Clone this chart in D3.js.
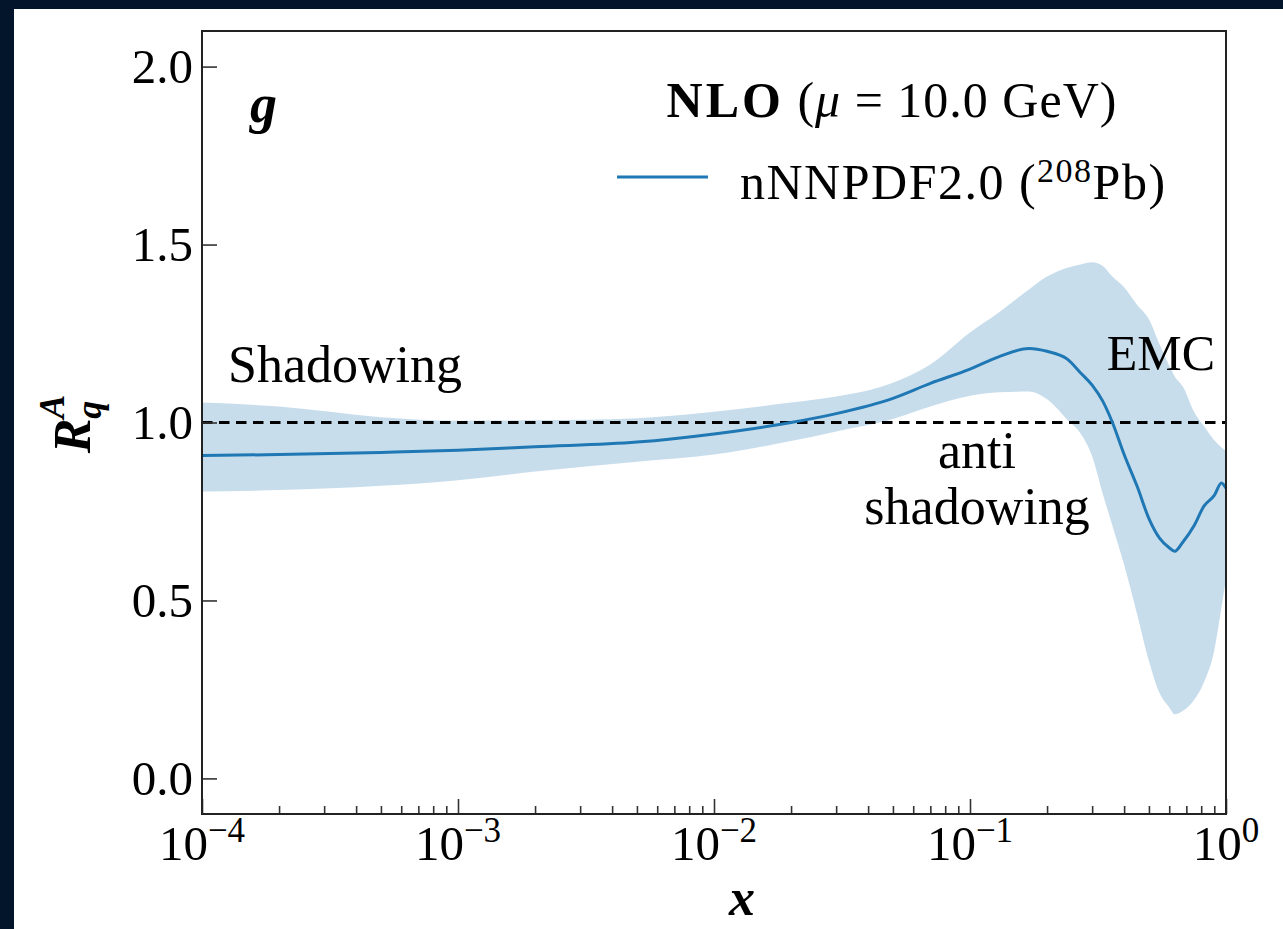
<!DOCTYPE html>
<html>
<head>
<meta charset="utf-8">
<script src="https://cdn.jsdelivr.net/npm/d3@7"></script>
<style>
  body { margin: 0; background: #03152b; }
  text { font-family: "Liberation Serif", "DejaVu Serif", serif; fill: #000; }
</style>
</head>
<body>
<div id="container"></div>
<script>
// x grid of the curve (momentum fraction)
const xVals = [1e-4, 2e-4, 5e-4, 1e-3, 2e-3, 5e-3, 1e-2, 2e-2, 3e-2, 5e-2, 7e-2, 0.1, 0.13, 0.17,
               0.2, 0.24, 0.27, 0.3, 0.33, 0.36, 0.4, 0.45, 0.5, 0.55, 0.6, 0.63, 0.68, 0.75,
               0.82, 0.9, 0.96, 1.0];
// central value
const central = [0.907, 0.910, 0.916, 0.922, 0.932, 0.945, 0.968, 1.0, 1.025, 1.068, 1.11, 1.15, 1.185, 1.208,
                 1.2, 1.178, 1.14, 1.105, 1.06, 1.0, 0.91, 0.82, 0.73, 0.675, 0.648, 0.638, 0.665, 0.71,
                 0.765, 0.795, 0.83, 0.815];
// uncertainty band
const upper = [1.056, 1.045, 1.015, 1.005, 1.006, 1.012, 1.03, 1.056, 1.073, 1.112, 1.163, 1.253, 1.31, 1.374,
               1.41, 1.435, 1.444, 1.45, 1.44, 1.41, 1.38, 1.33, 1.29, 1.22, 1.16, 1.13, 1.10, 1.03,
               0.99, 0.95, 0.93, 0.92];
const lower = [0.806, 0.81, 0.822, 0.838, 0.862, 0.89, 0.91, 0.948, 0.975, 1.01, 1.045, 1.075, 1.085, 1.087,
               1.065, 1.008, 0.97, 0.905, 0.80, 0.71, 0.60, 0.46, 0.33, 0.24, 0.20, 0.18, 0.19, 0.22,
               0.27, 0.36, 0.48, 0.56];

const yTicks = [0, 0.5, 1.0, 1.5, 2.0];
const xTicks = [1e-4, 1e-3, 1e-2, 1e-1, 1];
const xTickExp = ['−4', '−3', '−2', '−1', '0'];

const data = xVals.map((x, i) => ({ x: x, c: central[i], hi: upper[i], lo: lower[i] }));

const blue = '#1f77b4';

const svg = d3.select('#container')
    .append('svg')
    .attr('width', 1283)
    .attr('height', 929);

svg.append('rect')
    .attr('x', 14).attr('y', 9)
    .attr('width', 1269).attr('height', 920)
    .attr('fill', '#fff');

const xScale = d3.scaleLog().domain([1e-4, 1]).range([202, 1226]);
const yScale = d3.scaleLinear().domain([-0.1, 2.1]).range([814, 31]);

const plot = svg.append('g');

// band
plot.append('path')
    .datum(data)
    .attr('fill', blue)
    .attr('fill-opacity', 0.25)
    .attr('d', d3.area()
        .x(d => xScale(d.x))
        .y0(d => yScale(d.lo))
        .y1(d => yScale(d.hi))
        .curve(d3.curveMonotoneX));

// reference line at 1
plot.append('line')
    .attr('x1', xScale(1e-4)).attr('x2', xScale(1))
    .attr('y1', yScale(1)).attr('y2', yScale(1))
    .attr('stroke', '#000')
    .attr('stroke-width', 2.8)
    .attr('stroke-dasharray', '10.5,6.5');

// central line
plot.append('path')
    .datum(data)
    .attr('fill', 'none')
    .attr('stroke', blue)
    .attr('stroke-width', 3)
    .attr('d', d3.line()
        .x(d => xScale(d.x))
        .y(d => yScale(d.c))
        .curve(d3.curveMonotoneX));

// axes
const minorTicks = [];
[1e-4, 1e-3, 1e-2, 1e-1].forEach(dec => {
    for (let k = 2; k <= 9; k++) minorTicks.push(dec * k);
});

svg.append('g')
    .attr('transform', 'translate(0,814)')
    .call(d3.axisBottom(xScale).tickValues(minorTicks).tickSizeInner(-8).tickSizeOuter(0).tickFormat(''))
    .call(g => g.select('.domain').remove())
    .call(g => g.selectAll('line').attr('stroke', '#333').attr('stroke-width', 1.6));

svg.append('g')
    .attr('transform', 'translate(0,814)')
    .call(d3.axisBottom(xScale).tickValues(xTicks).tickSizeInner(-15).tickSizeOuter(0).tickFormat(''))
    .call(g => g.select('.domain').remove())
    .call(g => g.selectAll('line').attr('stroke', '#333').attr('stroke-width', 1.6));

svg.append('g')
    .attr('transform', 'translate(202,0)')
    .call(d3.axisLeft(yScale).tickValues(yTicks).tickSizeInner(-15).tickSizeOuter(0).tickPadding(9)
        .tickFormat(d3.format('.1f')))
    .call(g => g.select('.domain').remove())
    .call(g => g.selectAll('line').attr('stroke', '#333').attr('stroke-width', 1.6))
    .call(g => g.selectAll('text')
        .style('font-family', '"Liberation Serif", serif')
        .style('font-size', '49px')
        .attr('fill', '#000')
        .attr('dy', '0.33em'));

// x tick labels 10^n
const xl = svg.append('g');
xTicks.forEach((t, i) => {
    const txt = xl.append('text')
        .attr('x', xScale(t))
        .attr('y', 860)
        .attr('text-anchor', 'middle')
        .style('font-size', '49px');
    txt.append('tspan').text('10');
    txt.append('tspan').attr('dy', -18).style('font-size', '35px').text(xTickExp[i]);
});

// frame
svg.append('rect')
    .attr('x', 202).attr('y', 31)
    .attr('width', 1024).attr('height', 783)
    .attr('fill', 'none')
    .attr('stroke', '#222')
    .attr('stroke-width', 2);

// axis labels
svg.append('text')
    .attr('x', 742).attr('y', 915)
    .attr('text-anchor', 'middle')
    .style('font-size', '52px')
    .style('font-weight', 'bold')
    .style('font-style', 'italic')
    .text('x');

const yl = svg.append('text')
    .attr('transform', 'translate(90,424) rotate(-90)')
    .attr('text-anchor', 'middle')
    .style('font-size', '52px')
    .style('font-weight', 'bold')
    .style('font-style', 'italic');
yl.append('tspan').text('R');
yl.append('tspan').attr('dy', 11).style('font-size', '36px').text('q');
yl.append('tspan').attr('dx', -18).attr('dy', -37).style('font-size', '36px').text('A');

// panel label
svg.append('text')
    .attr('x', 250).attr('y', 122)
    .style('font-size', '54px')
    .style('font-weight', 'bold')
    .style('font-style', 'italic')
    .text('g');

// legend
const title = svg.append('text')
    .attr('x', 892).attr('y', 117)
    .attr('text-anchor', 'middle')
    .style('font-size', '50px')
    .style('letter-spacing', '1px');
title.append('tspan').style('font-weight', 'bold').style('letter-spacing', '3px').text('NLO');
title.append('tspan').text(' (');
title.append('tspan').style('font-style', 'italic').text('μ');
title.append('tspan').text('  =  10.0 GeV)');

svg.append('line')
    .attr('x1', 617).attr('x2', 708)
    .attr('y1', 177).attr('y2', 177)
    .attr('stroke', blue)
    .attr('stroke-width', 3);

const leg = svg.append('text')
    .attr('x', 740).attr('y', 199)
    .style('font-size', '50px')
    .style('letter-spacing', '1.5px');
leg.append('tspan').text('nNNPDF2.0 (');
leg.append('tspan').attr('dy', -17).style('font-size', '34px').text('208');
leg.append('tspan').attr('dy', 17).text('Pb)');

// annotations
svg.append('text')
    .attr('x', 228).attr('y', 382)
    .style('font-size', '52px')
    .text('Shadowing');

svg.append('text')
    .attr('x', 1215).attr('y', 370)
    .attr('text-anchor', 'end')
    .style('font-size', '50px')
    .text('EMC');

svg.append('text')
    .attr('x', 977).attr('y', 468)
    .attr('text-anchor', 'middle')
    .style('font-size', '52px')
    .text('anti');

svg.append('text')
    .attr('x', 977).attr('y', 524)
    .attr('text-anchor', 'middle')
    .style('font-size', '52px')
    .text('shadowing');
</script>
</body>
</html>
